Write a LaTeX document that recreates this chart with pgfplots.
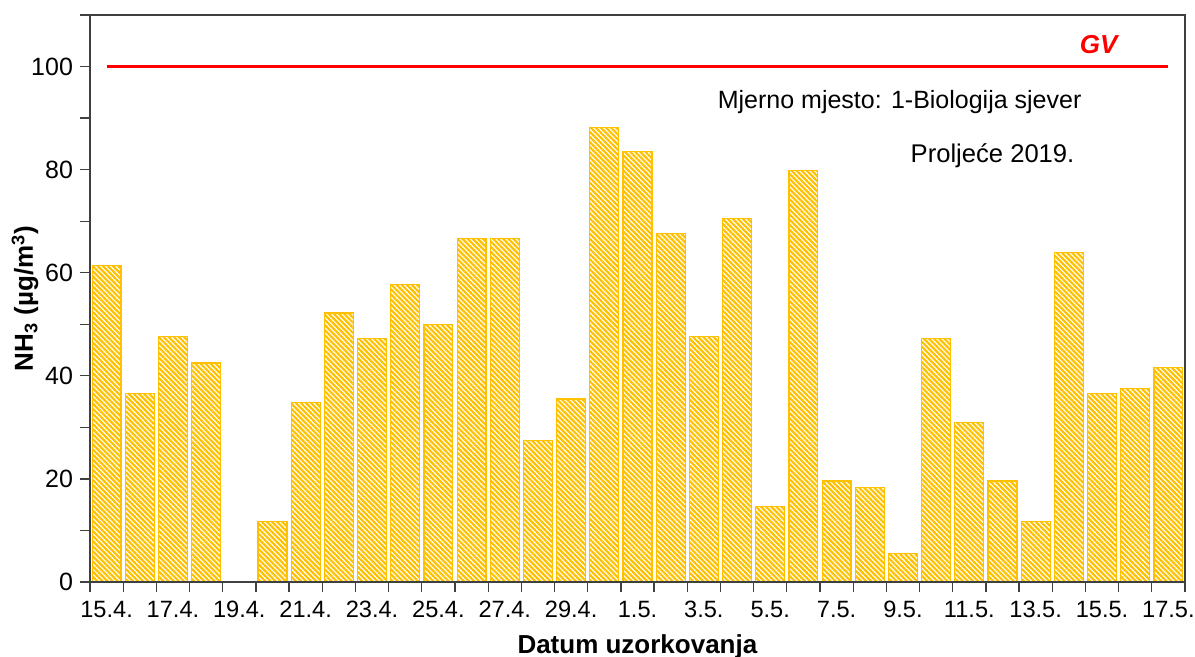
\documentclass[border=0pt]{standalone}
\usepackage{pgfplots}
\pgfplotsset{compat=1.18}
\usepackage{fontspec}
\setmainfont{Liberation Sans}
\usetikzlibrary{patterns.meta}
\definecolor{barorange}{HTML}{FFC000}
\definecolor{axgray}{HTML}{404040}

% 19.4. has no value
\pgfplotstableread{
x val
0 61.4
1 36.5
2 47.6
3 42.5
5 11.7
6 34.8
7 52.2
8 47.2
9 57.7
10 49.9
11 66.6
12 66.6
13 27.4
14 35.5
15 88.2
16 83.5
17 67.6
18 47.6
19 70.5
20 14.6
21 79.8
22 19.6
23 18.3
24 5.6
25 47.2
26 30.9
27 19.6
28 11.7
29 63.9
30 36.5
31 37.5
32 41.6
}\nhthree

\begin{document}
\begin{tikzpicture}
\begin{axis}[
    scale only axis,
    width=547.5pt,
    height=283.5pt,
    xmin=-0.5, xmax=32.5,
    ymin=0, ymax=110,
    axis on top,
    axis line style={axgray, line width=0.8pt},
    every tick/.style={axgray, line width=0.6pt},
    tick align=outside,
    xtick={0,2,...,32},
    xticklabels={15.4.,17.4.,19.4.,21.4.,23.4.,25.4.,27.4.,29.4.,1.5.,3.5.,5.5.,7.5.,9.5.,11.5.,13.5.,15.5.,17.5.},
    major x tick style={draw=none},
    minor xtick={-0.5,0.5,...,32.5},
    minor x tick style={axgray, line width=0.6pt},
    minor tick length=5pt,
    major tick length=5pt,
    xtick pos=bottom,
    ytick={0,20,...,100},
    minor ytick={10,30,...,110},
    ytick pos=left,
    tick label style={black},
    yticklabel style={font=\fontsize{12.5}{14}\selectfont},
    xticklabel style={font=\fontsize{11.8}{14}\selectfont, yshift=-1pt},
    /pgf/number format/assume math mode=true,
    xlabel={\textbf{Datum uzorkovanja}},
    ylabel={\textbf{NH\textsubscript{3} (µg/m\textsuperscript{3})}},
    xlabel style={font=\fontsize{13}{15}\selectfont, yshift=-1.5pt},
    ylabel style={font=\fontsize{13}{15}\selectfont, yshift=-10.5pt},
    clip=false,
]
\addplot[ybar, bar width=0.87, draw=barorange, line width=0.6pt,
    pattern={Lines[angle=-45, distance=1.8pt, line width=1.1pt]},
    pattern color=barorange] table[x=x, y=val] {\nhthree};
\addplot[red, line width=1.6pt] coordinates {(0,100) (32,100)};
\node[red, font=\fontsize{13}{15}\selectfont\bfseries\itshape] at (axis cs:29.9,104.3) {GV};
\node[font=\fontsize{12.5}{15}\selectfont] at (axis cs:23.9,93.2) {Mjerno mjesto: 1-Biologija sjever};
\node[font=\fontsize{12.8}{15}\selectfont] at (axis cs:26.7,82.7) {Proljeće 2019.};
\draw[axgray, line width=1pt] (rel axis cs:0,0) rectangle (rel axis cs:1,1);
\coordinate (bl) at (rel axis cs:0,0);
\coordinate (tr) at (rel axis cs:1,1);
\end{axis}
\pgfresetboundingbox
\path ([xshift=-45pt,yshift=-37.5pt]bl) rectangle ([xshift=5pt,yshift=7.5pt]tr);
\end{tikzpicture}
\end{document}
